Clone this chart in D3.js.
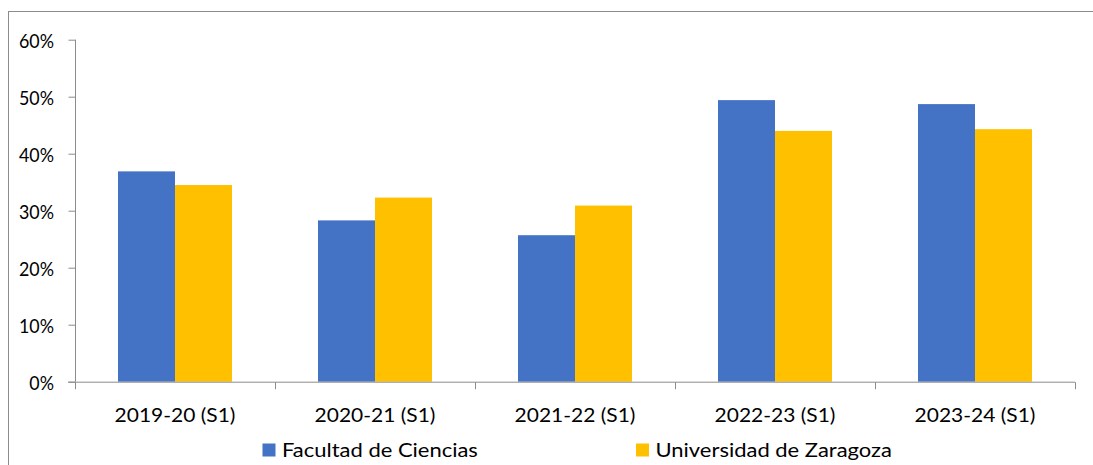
<!DOCTYPE html>
<html><head><meta charset="utf-8">
<script src="https://cdn.jsdelivr.net/npm/d3@7"></script>
<style>body{margin:0;background:#fff}svg{display:block}text{font-family:Lato,"Open Sans",sans-serif;fill:#000}</style>
</head><body><svg id="c" width="1093" height="465"></svg>
<script>
const categories = ["2019-20 (S1)","2020-21 (S1)","2021-22 (S1)","2022-23 (S1)","2023-24 (S1)"];
const seriesNames = ["Facultad de Ciencias","Universidad de Zaragoza"];
const facultad = [36.9, 28.3, 25.7, 49.4, 48.7];
const universidad = [34.5, 32.3, 30.9, 44.0, 44.3];
const yTicks = [0,10,20,30,40,50,60];
const colors = ["#4472C4","#FFC000"];

const svg = d3.select("#c");
const m = {l:75, r:1075, t:39.7, b:381.7};
svg.append("rect").attr("x",8.5).attr("y",11.5).attr("width",1100).attr("height",470)
  .attr("fill","none").attr("stroke","#8c8c8c").attr("stroke-width",1);

const x = d3.scaleBand().domain(categories).range([m.l,m.r]).paddingInner(0).paddingOuter(0);
const y = d3.scaleLinear().domain([0,60]).range([m.b,m.t]);
const xs = d3.scaleBand().domain(seriesNames).range([0,x.bandwidth()]).paddingInner(0).paddingOuter(43/57);

// horizontal stretch helper: measure a sample string and get scale to target width
function stretch(sample, size, target){
  const t = svg.append("text").style("font-size",size+"px").text(sample);
  const w = t.node().getComputedTextLength();
  t.remove();
  return target / w;
}

const series = [facultad, universidad];
series.forEach((vals,si)=>{
  svg.append("g").selectAll("rect").data(categories).join("rect")
    .attr("x",d=>x(d)+xs(seriesNames[si]))
    .attr("y",(d,i)=>y(vals[i]))
    .attr("width",xs.bandwidth())
    .attr("height",(d,i)=>y(0)-y(vals[i]))
    .attr("fill",colors[si]);
});

// y axis
const ya = d3.axisLeft(y).tickValues(yTicks).tickFormat(d=>d+"%").tickSize(7);
const gy = svg.append("g").attr("transform",`translate(${m.l+0.5},0)`).call(ya);
gy.selectAll("line,path").attr("stroke","#8c8c8c");
gy.select(".domain").attr("d",`M0,${y(60)}V${y(0)}`);
const ky = stretch("60%", 19.5, 35);
gy.selectAll("text").attr("x",null).attr("dy",null)
  .attr("transform",`translate(-21.5,7.5) scale(${ky},1)`)
  .attr("text-anchor","end").style("font-size","19.5px");

// x axis with boundary ticks
const gx = svg.append("g").attr("transform",`translate(0,${m.b+0.5})`);
gx.append("line").attr("x1",m.l-7).attr("x2",m.r).attr("stroke","#8c8c8c");
const bounds = categories.map(c=>x(c)).concat([m.r]);
gx.selectAll(".bt").data(bounds).join("line").attr("class","bt")
  .attr("x1",d=>d+0.5).attr("x2",d=>d+0.5).attr("y1",0).attr("y2",7).attr("stroke","#8c8c8c");
const kx = stretch(categories[0], 18.5, 121);
gx.selectAll(".lbl").data(categories).join("text").attr("class","lbl")
  .attr("transform",d=>`translate(${x(d)+x.bandwidth()/2},39.5) scale(${kx},1)`)
  .attr("text-anchor","middle").style("font-size","18.5px").text(d=>d);

// legend
const kl = stretch(seriesNames[0], 18.5, 196);
const leg = [{x:262.5,name:seriesNames[0],c:colors[0]},{x:636,name:seriesNames[1],c:colors[1]}];
const lg = svg.append("g");
lg.selectAll("rect").data(leg).join("rect").attr("x",d=>d.x).attr("y",443.5).attr("width",13).attr("height",13).attr("fill",d=>d.c);
lg.selectAll("text").data(leg).join("text")
  .attr("transform",d=>`translate(${d.x+19.5},457) scale(${kl},1)`)
  .style("font-size","18.5px").text(d=>d.name);
</script></body></html>
